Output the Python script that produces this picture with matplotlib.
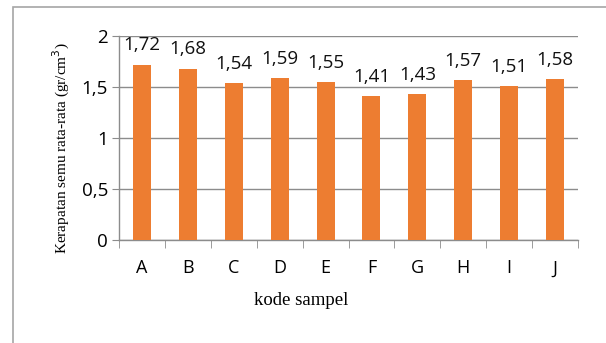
#!/usr/bin/env python3

import matplotlib.pyplot as plt
from matplotlib.patches import Rectangle

# Sample codes and mean apparent density values
SAMPLES = ["A", "B", "C", "D", "E", "F", "G", "H", "I", "J"]
DENSITY = [1.72, 1.68, 1.54, 1.59, 1.55, 1.41, 1.43, 1.57, 1.51, 1.58]
Y_TICKS = [0, 0.5, 1, 1.5, 2]
Y_TICK_LABELS = ["0", "0,5", "1", "1,5", "2"]

BAR_COLOR = "#ED7D31"
GRID_COLOR = "#8C8C8C"
SANS = ["Open Sans", "DejaVu Sans"]
SERIF = "Liberation Serif"


def fmt(value):
    return f"{value:.2f}".replace(".", ",")


def main():
    fig = plt.figure(figsize=(6.06, 3.43), dpi=100)
    W, H = 606, 343

    # outer chart frame (top and left edges only visible)
    fig.patches.append(Rectangle((13 / W, -0.1), 1.2, (343 - 7) / H + 0.1,
                                 transform=fig.transFigure, fill=False,
                                 edgecolor="#A6A6A6", linewidth=1.2))

    ax = fig.add_axes([119 / W, 1 - 240 / H, (578 - 119) / W, (240 - 36) / H])
    x = range(len(SAMPLES))
    ax.bar(x, DENSITY, width=0.39, color=BAR_COLOR, zorder=3)

    for xi, v in zip(x, DENSITY):
        ax.text(xi, v + 0.14, fmt(v), ha="center", va="baseline",
                fontsize=13.5, family=SANS, color="#111111")

    ax.set_xlim(-0.5, len(SAMPLES) - 0.5)
    ax.set_ylim(0, 2)
    ax.set_yticks(Y_TICKS)
    ax.set_yticklabels(Y_TICK_LABELS, family=SANS, fontsize=13.5)
    ax.yaxis.grid(True, color=GRID_COLOR, linewidth=1)
    ax.set_axisbelow(True)
    ax.tick_params(axis="y", length=5, color=GRID_COLOR, pad=3)

    ax.set_xticks(list(x))
    ax.set_xticklabels(SAMPLES, family=SANS, fontsize=13)
    ax.set_xticks([i - 0.5 for i in range(len(SAMPLES) + 1)], minor=True)
    ax.tick_params(axis="x", which="major", length=0, pad=14)
    ax.tick_params(axis="x", which="minor", length=6, color=GRID_COLOR)

    for side in ("top", "right"):
        ax.spines[side].set_visible(False)
    for side in ("left", "bottom"):
        ax.spines[side].set_color(GRID_COLOR)
        ax.spines[side].set_linewidth(1)

    ax.set_xlabel("kode sampel", family=SERIF, fontsize=13.5)
    ax.xaxis.set_label_coords((301 - 119) / 459, -(292 - 240) / 204)
    ax.set_ylabel("Kerapatan semu rata-rata (gr/cm$^3$)", family=SERIF,
                  fontsize=11)
    ax.yaxis.set_label_coords(-(119 - 72) / 459, 0.45)

    fig.savefig("out.png", dpi=100)
    plt.close(fig)


if __name__ == "__main__":
    main()
